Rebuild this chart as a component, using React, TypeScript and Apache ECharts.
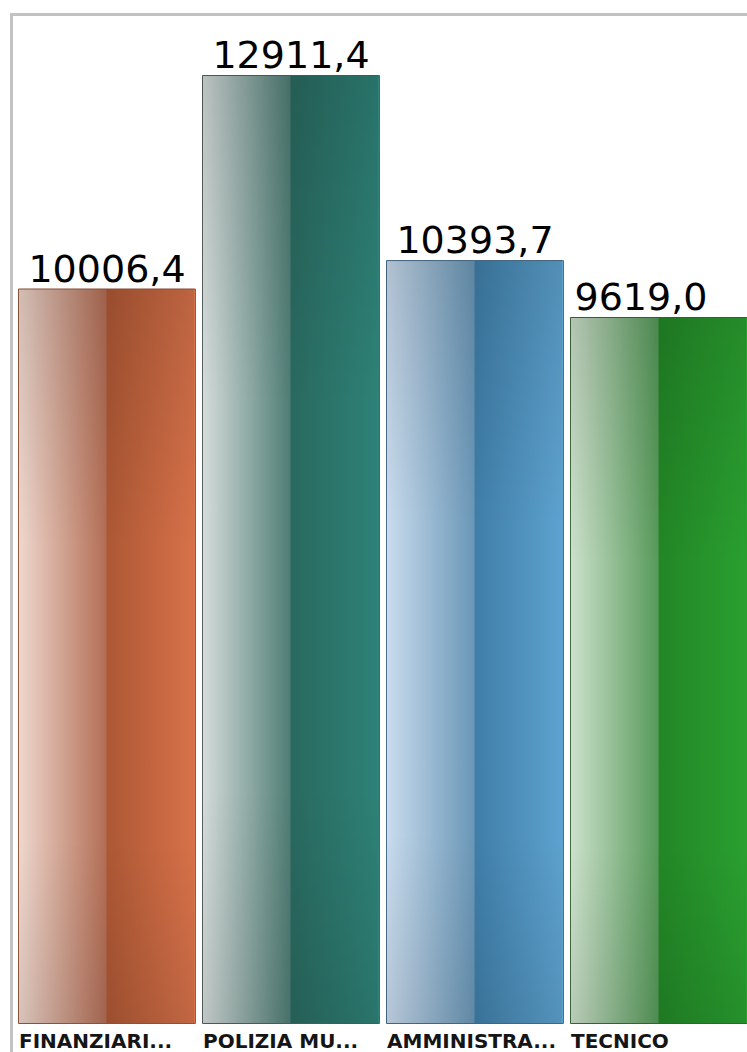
import React, { useEffect, useRef } from "react";
import * as echarts from "echarts";

const categories = ["FINANZIARI...", "POLIZIA MU...", "AMMINISTRA...", "TECNICO"];
const values = [10006.4, 12911.4, 10393.7, 9619.0];
const valueLabels = ["10006,4", "12911,4", "10393,7", "9619,0"];

const gradients = [
  ["#efd8ce", "#b36e55", "#ad5734", "#d8724a"],
  ["#d6dddb", "#4f7d75", "#29695f", "#2e8278"],
  ["#cadcee", "#6a97b7", "#3f7ea8", "#5ea3d0"],
  ["#cde1cc", "#579a5a", "#228626", "#2aa030"],
];
const borders = ["#9a5a40", "#56625f", "#4a7090", "#3d6b3d"];

export default function App() {
  const ref = useRef<HTMLDivElement>(null);
  useEffect(() => {
    if (!ref.current) return;
    const chart = echarts.init(ref.current, null, { renderer: "svg" });
    const data = values.map((v, i) => {
      const g = gradients[i];
      return {
        value: v,
        itemStyle: {
          color: new echarts.graphic.LinearGradient(0, 0, 1, 0, [
            { offset: 0, color: g[0] },
            { offset: 0.495, color: g[1] },
            { offset: 0.5, color: g[2] },
            { offset: 1, color: g[3] },
          ]),
          borderColor: borders[i],
          borderWidth: 1,
        },
        label: i === 3 ? { offset: [-18, 0] } : undefined,
      };
    });
    chart.setOption({
      animation: false,
      backgroundColor: "#ffffff",
      graphic: [
        {
          type: "rect",
          shape: { x: 11.5, y: 14.5, width: 800, height: 1200 },
          style: { fill: "#ffffff", stroke: "#c2c2c2", lineWidth: 3 },
          z: -10,
          silent: true,
        },
      ],
      grid: { left: 14, width: 736, top: 68.5, bottom: 28 },
      xAxis: [
        {
          type: "category",
          data: categories,
          axisLine: { show: false },
          axisTick: { show: false },
          axisLabel: { show: false },
        },
        {
          type: "category",
          position: "bottom",
          boundaryGap: false,
          data: [...categories, ""],
          axisLine: { show: false },
          axisTick: { show: false },
          axisLabel: {
            interval: 0,
            align: "left",
            margin: 7,
            padding: [0, 0, 0, 5],
            fontFamily: "DejaVu Sans",
            fontWeight: "bold",
            fontSize: 20,
            color: "#151515",
          },
        },
      ],
      yAxis: {
        type: "value",
        min: 0,
        max: 13000,
        show: false,
        splitLine: { show: false },
      },
      series: [
        {
          type: "bar",
          data,
          barWidth: 178,
          label: {
            show: true,
            position: "top",
            distance: 1,
            fontFamily: "DejaVu Sans",
            fontSize: 38,
            color: "#000000",
            formatter: (p: any) => valueLabels[p.dataIndex],
          },
        },
        {
          type: "bar",
          data: values,
          barWidth: 176,
          barGap: "-100%",
          silent: true,
          z: 3,
          itemStyle: {
            color: new echarts.graphic.LinearGradient(0, 0, 0, 1, [
              { offset: 0, color: "rgba(0,0,0,0.12)" },
              { offset: 0.35, color: "rgba(0,0,0,0)" },
              { offset: 0.75, color: "rgba(0,0,0,0)" },
              { offset: 1, color: "rgba(0,0,0,0.1)" },
            ]),
          },
        },
      ],
    });
    return () => chart.dispose();
  }, []);
  return (
    <div
      style={{ position: "absolute", left: 0, top: 0, width: 747, height: 1052, overflow: "hidden" }}
    >
      <div ref={ref} style={{ width: 770, height: 1052 }} />
    </div>
  );
}
